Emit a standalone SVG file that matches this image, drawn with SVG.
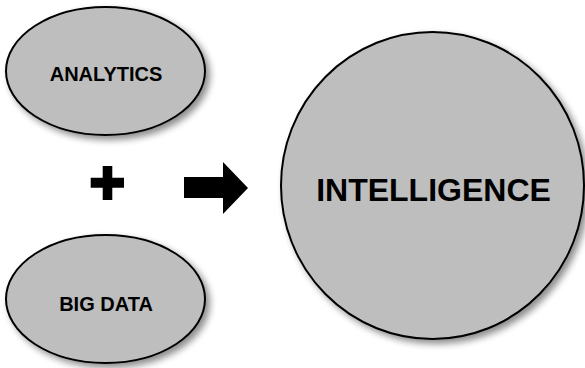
<svg xmlns="http://www.w3.org/2000/svg" width="585" height="368" viewBox="0 0 585 368">
  <defs>
    <filter id="drop" x="-20%" y="-20%" width="140%" height="140%">
      <feGaussianBlur in="SourceAlpha" stdDeviation="3.5"/>
      <feOffset dx="4" dy="4" result="blur"/>
      <feComponentTransfer><feFuncA type="linear" slope="0.45"/></feComponentTransfer>
      <feMerge><feMergeNode/><feMergeNode in="SourceGraphic"/></feMerge>
    </filter>
  </defs>
  <style>
    .shape { fill: #bebebe; stroke: #000; stroke-width: 2; filter: url(#drop); }
    .label { font-family: "Liberation Sans", Arial, sans-serif; font-weight: bold; fill: #000; text-anchor: middle; }
    .sym { fill: #000; }
  </style>
  <rect width="585" height="368" fill="#fff"/>

  <g id="analytics">
    <ellipse class="shape" cx="105.5" cy="71" rx="99.5" ry="64"/>
    <text class="label" x="106" y="81" font-size="20">ANALYTICS</text>
  </g>

  <g id="bigdata">
    <ellipse class="shape" cx="105.5" cy="299" rx="99.5" ry="64"/>
    <text class="label" x="106" y="311" font-size="20">BIG DATA</text>
  </g>

  <g id="intelligence">
    <ellipse class="shape" cx="432.5" cy="185.5" rx="151.5" ry="153.5"/>
    <text class="label" x="433.5" y="201" font-size="32">INTELLIGENCE</text>
  </g>

  <g id="connectors">
    <!-- plus sign -->
    <path class="sym" d="M102.7 166 H112.3 V177.7 H124 V187.7 H112.3 V200 H102.7 V187.7 H90.7 V177.7 H102.7 Z"/>
    <!-- block arrow -->
    <path class="sym" d="M184 177 H223 V162 L248 188 L223 214 V198 H184 Z"/>
  </g>
</svg>
